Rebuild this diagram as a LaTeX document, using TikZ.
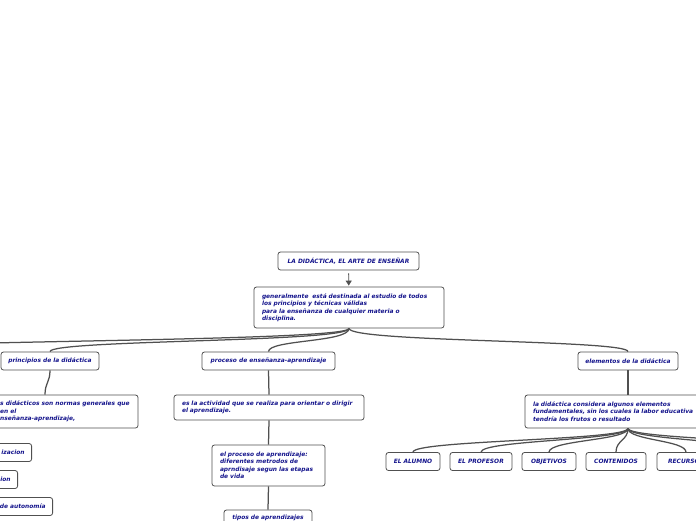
\documentclass[tikz,border=0pt]{standalone}
\usepackage{fontspec}
\setmainfont{DejaVu Sans}
\usepackage{tikz}
\usetikzlibrary{arrows.meta}
\definecolor{textblue}{RGB}{20,20,140}
\definecolor{linegray}{RGB}{80,80,80}

\begin{document}
\begin{tikzpicture}[x=1pt, y=-1pt,
  lbl/.style={text=textblue, font=\fontsize{5.9}{7.5}\selectfont\bfseries\itshape, inner sep=0pt, align=left},
  box/.style={lbl, draw=linegray, line width=0.8pt, rounded corners=2.5pt, fill=white, minimum height=18},
  branch/.style={draw=linegray, line width=1.25pt}]
  \useasboundingbox (0,0) rectangle (696,520);
  \clip (0,0) rectangle (696,520);

  % centre
  \node[box, minimum width=141] (title) at (348.5,261) {LA DIDÁCTICA, EL ARTE DE ENSEÑAR};
  \node[box, minimum width=190, minimum height=41, text width=174] (gen) at (349,307.5)
    {generalmente\ \ está destinada al estudio de todos\\los principios y técnicas válidas\\para la enseñanza de cualquier materia o\\disciplina.};
  \draw[-{Triangle[width=6pt,length=5pt]}, linegray, line width=0.8pt, shorten <=3pt, shorten >=1pt] (title) -- (gen);

  % main branches
  \node[box, minimum width=98] (princ) at (50,361) {principios de la didáctica};
  \node[box, minimum width=133] (proc) at (268.5,361) {proceso de enseñanza-aprendizaje};
  \node[box, minimum width=100] (elem) at (628,361) {elementos de la didáctica};
  \coordinate (offleft) at (-170,352);
  \foreach \to in {princ, proc, elem}
    \draw[branch] (gen.south) .. controls +(0,14) and +(0,-12) .. (\to.north);
  \draw[branch] (gen.south) .. controls +(0,14) and +(0,-12) .. (offleft);

  % principios
  \node[box, minimum width=186, minimum height=33] (princtxt) at (45,411.5) {};
  \node[lbl, anchor=west] (princlbl) at (0,411.5)
    {s didácticos son normas generales que\\en el\\nseñanza-aprendizaje,};
  \draw[branch] (princ.south) .. controls +(0,12) and +(0,-12) .. (princtxt.north);
  \node[box, anchor=east, minimum width=70, text width=56, align=right] (lizac) at (32,452.5) {izacion};
  \node[box, anchor=east, minimum width=70, text width=56, align=right] (cion) at (18,479.5) {ion};
  \node[box, anchor=east, minimum width=90, text width=76, align=right] (auton) at (53,506.5) {de autonomía};

  % proceso
  \node[box, minimum width=190, minimum height=25, text width=174] (proctxt) at (269,407.5)
    {es la actividad que se realiza para orientar o dirigir\\el aprendizaje.};
  \node[box, minimum width=113, minimum height=41, text width=97] (aprend) at (268.5,465.5)
    {el proceso de aprendizaje:\\diferentes metrodos de\\aprndisaje segun las etapas\\de vida};
  \node[box, minimum width=88, minimum height=16] (tipos) at (268,518) {tipos de aprendizajes};
  \draw[branch] (proc.south) .. controls +(0,12) and +(0,-12) .. (proctxt.north);
  \draw[branch] (proctxt.south) .. controls +(0,12) and +(0,-12) .. (aprend.north);
  \draw[branch] (aprend.south) .. controls +(0,12) and +(0,-12) .. (tipos.north);

  % elementos
  \node[box, minimum width=206, minimum height=33, text width=190] (elemtxt) at (628,411.5)
    {la didáctica considera algunos elementos\\fundamentales, sin los cuales la labor educativa\\tendría los frutos o resultado};
  \draw[branch] (elem.south) .. controls +(0,12) and +(0,-12) .. (elemtxt.north);
  \foreach \name/\x/\w/\txt in {alumno/413/54/EL ALUMNO, profesor/481/62/EL PROFESOR,
      objetivos/549/54/OBJETIVOS, contenidos/616/60/CONTENIDOS, recursos/686/58/RECURSOS} {
    \node[box, minimum width=\w] (\name) at (\x,461.5) {\txt};
    \draw[branch] (elemtxt.south) .. controls +(0,12) and +(0,-12) .. (\name.north);
  }
  \coordinate (offr1) at (770,453);
  \coordinate (offr2) at (860,453);
  \draw[branch] (elemtxt.south) .. controls +(0,12) and +(0,-12) .. (offr1);
  \draw[branch] (elemtxt.south) .. controls +(0,12) and +(0,-12) .. (offr2);
\end{tikzpicture}
\end{document}
